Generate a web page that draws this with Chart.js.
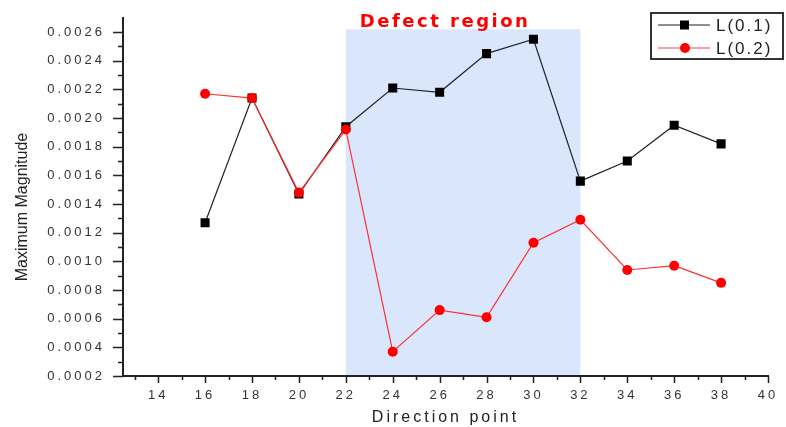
<!DOCTYPE html>
<html>
<head>
<meta charset="utf-8">
<script src="https://cdn.jsdelivr.net/npm/chart.js@4/dist/chart.umd.min.js"></script>
<style>
body { margin: 0; background: #fff; }
#wrap { width: 786px; height: 427px; position: relative; }
</style>
</head>
<body>
<div id="wrap"><canvas id="magChart"></canvas></div>
<script>
const directionPoints = [16, 18, 20, 22, 24, 26, 28, 30, 32, 34, 36, 38];
const l01Values = [0.00127, 0.00214, 0.00147, 0.00194, 0.00221, 0.00218, 0.00245, 0.00255, 0.00156, 0.00170, 0.00195, 0.00182];
const l02Values = [0.00217, 0.00214, 0.00148, 0.00192, 0.00037, 0.00066, 0.00061, 0.00113, 0.00129, 0.00094, 0.00097, 0.00085];
const seriesNames = ['L(0.1)', 'L(0.2)'];
const xTicks = [14, 16, 18, 20, 22, 24, 26, 28, 30, 32, 34, 36, 38, 40];
const yTicks = [0.0002, 0.0004, 0.0006, 0.0008, 0.0010, 0.0012, 0.0014, 0.0016, 0.0018, 0.0020, 0.0022, 0.0024, 0.0026];
const defectRegion = [22, 32];
const defectTop = 0.00262;
const defectLabel = 'Defect region';
const yTitle = 'Maximum Magnitude';

const toPoints = (xs, ys) => xs.map((x, i) => ({ x: x, y: ys[i] }));

// shaded defect band, behind the lines
const regionPlugin = {
    id: 'regionPlugin',
    beforeDatasetsDraw(chart) {
        const { ctx, scales: { x, y } } = chart;
        const x0 = x.getPixelForValue(defectRegion[0]);
        const x1 = x.getPixelForValue(defectRegion[1]);
        const y0 = y.getPixelForValue(defectTop);
        const y1 = chart.chartArea.bottom - 1;
        ctx.save();
        ctx.fillStyle = '#d9e6fb';
        ctx.fillRect(x0, y0, x1 - x0, y1 - y0);
        ctx.font = 'bold 18px "DejaVu Sans"';
        ctx.letterSpacing = '2.5px';
        ctx.fillStyle = '#ff0000';
        ctx.textAlign = 'center';
        ctx.textBaseline = 'middle';
        ctx.fillText(defectLabel, (x0 + x1) / 2 - 18, y0 - 7);
        ctx.restore();
    }
};

// major + minor tick marks, y title and the framed legend
const decorPlugin = {
    id: 'decorPlugin',
    beforeDraw(chart) {
        chart.ctx.letterSpacing = '3px';
    },
    afterDraw(chart) {
        const { ctx, chartArea, scales: { x, y } } = chart;
        ctx.save();
        ctx.letterSpacing = '0px';
        ctx.strokeStyle = '#222';
        ctx.lineWidth = 1.5;
        ctx.beginPath();
        for (let v = 13; v <= 40; v++) {
            const px = Math.round(x.getPixelForValue(v)) + 0.5;
            const len = v % 2 === 0 ? 7 : 4;
            ctx.moveTo(px, chartArea.bottom);
            ctx.lineTo(px, chartArea.bottom + len);
        }
        for (let i = 2; i <= 26; i++) {
            const py = Math.round(y.getPixelForValue(i / 10000)) + 0.5;
            const len = i % 2 === 0 ? 10 : 5;
            ctx.moveTo(chartArea.left, py);
            ctx.lineTo(chartArea.left - len, py);
        }
        ctx.stroke();

        // rotated y title
        ctx.save();
        ctx.translate(23, 207);
        ctx.rotate(-Math.PI / 2);
        ctx.font = '16px "Liberation Sans"';
        ctx.fillStyle = '#222';
        ctx.textAlign = 'center';
        ctx.textBaseline = 'middle';
        ctx.fillText(yTitle, 0, 0);
        ctx.restore();

        // legend
        const bx = 651, by = 13, bw = 132, bh = 46;
        ctx.fillStyle = '#fff';
        ctx.fillRect(bx, by, bw, bh);
        ctx.strokeStyle = '#333';
        ctx.lineWidth = 2;
        ctx.strokeRect(bx, by, bw, bh);
        const colors = ['#000', '#ff0000'];
        const lineColors = ['#222', '#ff4040'];
        ctx.font = '17px "Liberation Sans"';
        ctx.letterSpacing = '2px';
        ctx.textBaseline = 'middle';
        seriesNames.forEach((name, i) => {
            const ly = by + 12 + i * 23;
            ctx.strokeStyle = lineColors[i];
            ctx.lineWidth = 1.2;
            ctx.beginPath();
            ctx.moveTo(bx + 7, ly);
            ctx.lineTo(bx + 59, ly);
            ctx.stroke();
            ctx.fillStyle = colors[i];
            if (i === 0) {
                ctx.fillRect(bx + 29, ly - 4.5, 9, 9);
            } else {
                ctx.beginPath();
                ctx.arc(bx + 34, ly, 5, 0, Math.PI * 2);
                ctx.fill();
            }
            ctx.fillStyle = '#222';
            ctx.fillText(name, bx + 65, ly + 1);
        });
        ctx.restore();
        ctx.letterSpacing = '0px';
    }
};

new Chart(document.getElementById('magChart'), {
    type: 'line',
    data: {
        datasets: [
            {
                label: seriesNames[0],
                data: toPoints(directionPoints, l01Values),
                borderColor: '#222',
                borderWidth: 1.2,
                pointStyle: 'rect',
                pointRadius: 6.4,
                pointBackgroundColor: '#000',
                pointBorderWidth: 0,
                order: 2
            },
            {
                label: seriesNames[1],
                data: toPoints(directionPoints, l02Values),
                borderColor: '#ff3030',
                borderWidth: 1.2,
                pointStyle: 'circle',
                pointRadius: 5,
                pointBackgroundColor: '#ff0000',
                pointBorderWidth: 0,
                order: 1
            }
        ]
    },
    options: {
        responsive: true,
        maintainAspectRatio: false,
        animation: false,
        layout: { padding: { top: 4, right: 18, left: 0, bottom: 0 } },
        plugins: {
            legend: { display: false },
            tooltip: { enabled: false }
        },
        scales: {
            x: {
                type: 'linear',
                min: 12.5,
                max: 40,
                afterFit: scale => { scale.height = 51; },
                afterBuildTicks: scale => { scale.ticks = xTicks.map(v => ({ value: v })); },
                grid: { display: false },
                border: { display: true, color: '#222', width: 2 },
                ticks: {
                    autoSkip: false,
                    maxRotation: 0,
                    padding: 4,
                    color: '#333',
                    font: { family: 'Liberation Sans', size: 13 }
                },
                title: {
                    display: true,
                    text: 'Direction point',
                    color: '#222',
                    padding: { top: 0, bottom: 0 },
                    font: { family: 'Liberation Sans', size: 16 }
                }
            },
            y: {
                type: 'linear',
                min: 0.0002,
                max: 0.0027,
                afterFit: scale => { scale.width = 123; },
                afterBuildTicks: scale => { scale.ticks = yTicks.map(v => ({ value: v })); },
                grid: { display: false },
                border: { display: true, color: '#222', width: 2 },
                ticks: {
                    autoSkip: false,
                    padding: 10,
                    color: '#333',
                    font: { family: 'Liberation Sans', size: 13 },
                    callback: v => v.toFixed(4)
                },
                title: { display: false }
            }
        }
    },
    plugins: [regionPlugin, decorPlugin]
});
</script>
</body>
</html>
